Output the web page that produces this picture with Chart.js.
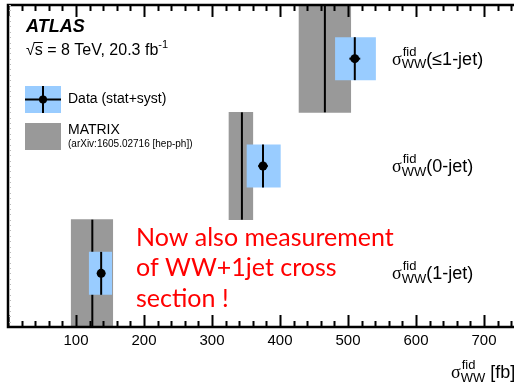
<!DOCTYPE html>
<html>
<head>
<meta charset="utf-8">
<script src="https://cdn.jsdelivr.net/npm/chart.js@4.4.0/dist/chart.umd.min.js"></script>
<style>
  html, body { margin: 0; padding: 0; background: #fff; overflow: hidden; }
  #wrap { width: 600px; height: 386px; }
</style>
</head>
<body>
<div id="wrap"><canvas id="wwChart" width="600" height="386"></canvas></div>
<script>
// Rows from top to bottom
const rowNames = ['≤1-jet', '0-jet', '1-jet'];
const rowPos = [2.5, 1.5, 0.5];

// MATRIX prediction band [fb]
const matrixLow = [428, 325, 93];
const matrixHigh = [504, 360, 154];
const matrixCentral = [466, 344, 124];

// Measured data [fb]
const dataValue = [510, 375, 137];
const dataLow = [481, 351, 119];
const dataHigh = [541, 401, 153];
const dataStat = [8, 7, 5];

// x axis
const xMin = 0;
const xMax = 800;
const majorStep = 100;
const minorStep = 20;

const grayColor = '#999999';
const blueColor = '#99ccff';

function makeLineDataset(points, order) {
  return {
    type: 'line',
    data: points,
    borderColor: '#000',
    borderWidth: 2,
    pointRadius: 0,
    fill: false,
    order: order
  };
}

const datasets = [
  {
    type: 'bar',
    indexAxis: 'y',
    label: 'MATRIX',
    data: rowPos.map((y, i) => ({ y: y, x: [matrixLow[i], matrixHigh[i]] })),
    backgroundColor: grayColor,
    barPercentage: 1,
    categoryPercentage: 1,
    grouped: false,
    order: 5
  },
  {
    type: 'bar',
    indexAxis: 'y',
    label: 'Data (stat+syst)',
    data: rowPos.map((y, i) => ({ y: y, x: [dataLow[i], dataHigh[i]] })),
    backgroundColor: blueColor,
    barPercentage: 0.4,
    categoryPercentage: 1,
    grouped: false,
    order: 3
  }
];

// central MATRIX lines (behind data boxes)
rowPos.forEach((y, i) => {
  datasets.push(makeLineDataset([
    { x: matrixCentral[i], y: y - 0.5 },
    { x: matrixCentral[i], y: y + 0.5 }
  ], 4));
});

// data error bars
rowPos.forEach((y, i) => {
  datasets.push(makeLineDataset([
    { x: dataValue[i], y: y - 0.2 },
    { x: dataValue[i], y: y + 0.2 }
  ], 2));
  datasets.push(makeLineDataset([
    { x: dataValue[i] - dataStat[i], y: y },
    { x: dataValue[i] + dataStat[i], y: y }
  ], 2));
});

// data markers
datasets.push({
  type: 'line',
  data: rowPos.map((y, i) => ({ x: dataValue[i], y: y })),
  showLine: false,
  pointRadius: 4.5,
  pointBackgroundColor: '#000',
  pointBorderWidth: 0,
  order: 1
});

function drawSigma(ctx, x0, base, size, tail) {
  ctx.font = size + 'px "Liberation Serif"';
  ctx.fillText('σ', x0, base);
  const w = ctx.measureText('σ').width;
  const sub = Math.round(size * 0.72);
  ctx.font = sub + 'px "Liberation Sans"';
  ctx.fillText('fid', x0 + w + 1, base - size * 0.5);
  ctx.fillText('WW', x0 + w, base + size * 0.2);
  const ww = Math.max(ctx.measureText('WW').width, ctx.measureText('fid').width);
  ctx.font = size + 'px "Liberation Sans"';
  ctx.fillText(tail, x0 + w + ww, base);
}

const atlasDecor = {
  id: 'atlasDecor',
  afterDatasetsDraw(chart) {
    const ctx = chart.ctx;
    const a = chart.chartArea;
    const xs = chart.scales.x;
    const ys = chart.scales.y;
    ctx.save();

    // frame
    ctx.strokeStyle = '#000';
    ctx.lineWidth = 2.5;
    ctx.beginPath();
    ctx.moveTo(a.right, a.top);
    ctx.lineTo(a.left, a.top);
    ctx.lineTo(a.left, a.bottom);
    ctx.lineTo(a.right, a.bottom);
    ctx.stroke();

    // inward ticks top and bottom
    ctx.lineWidth = 2;
    for (let v = xMin; v <= xMax; v += minorStep) {
      const px = Math.round(xs.getPixelForValue(v)) + 0.5;
      const len = v % majorStep === 0 ? 12 : 6;
      ctx.beginPath();
      ctx.moveTo(px, a.bottom);
      ctx.lineTo(px, a.bottom - len);
      ctx.moveTo(px, a.top);
      ctx.lineTo(px, a.top + len);
      ctx.stroke();
    }

    // faint ticks on the left
    ctx.strokeStyle = '#bbb';
    ctx.lineWidth = 1;
    for (let v = 0.05; v < 3; v += 0.05) {
      const py = Math.round(ys.getPixelForValue(v)) + 0.5;
      ctx.beginPath();
      ctx.moveTo(a.left + 1, py);
      ctx.lineTo(a.left + 3, py);
      ctx.stroke();
    }

    ctx.fillStyle = '#000';
    ctx.textBaseline = 'alphabetic';
    ctx.textAlign = 'left';

    // ATLAS label
    ctx.font = 'italic bold 18px "Liberation Sans"';
    ctx.fillText('ATLAS', 26, 32);

    // energy / lumi
    ctx.font = '16px "Liberation Sans"';
    const rootW = ctx.measureText('√').width;
    const sW = ctx.measureText('s').width;
    const line = '√s = 8 TeV, 20.3 fb';
    ctx.fillText(line, 26, 55);
    ctx.lineWidth = 1;
    ctx.strokeStyle = '#000';
    ctx.beginPath();
    ctx.moveTo(26 + rootW - 1, 42.5);
    ctx.lineTo(26 + rootW + sW, 42.5);
    ctx.stroke();
    const lw = ctx.measureText(line).width;
    ctx.font = '11px "Liberation Sans"';
    ctx.fillText('-1', 26 + lw, 48);

    // legend: data
    ctx.fillStyle = blueColor;
    ctx.fillRect(25, 86, 36, 27);
    ctx.strokeStyle = '#000';
    ctx.lineWidth = 2;
    ctx.beginPath();
    ctx.moveTo(25, 99.5);
    ctx.lineTo(61, 99.5);
    ctx.moveTo(43, 86);
    ctx.lineTo(43, 113);
    ctx.stroke();
    ctx.fillStyle = '#000';
    ctx.beginPath();
    ctx.arc(43, 99.5, 4, 0, Math.PI * 2);
    ctx.fill();
    ctx.font = '14px "Liberation Sans"';
    ctx.fillText('Data (stat+syst)', 68, 103);

    // legend: MATRIX
    ctx.fillStyle = grayColor;
    ctx.fillRect(25, 123, 36, 27);
    ctx.fillStyle = '#000';
    ctx.font = '14px "Liberation Sans"';
    ctx.fillText('MATRIX', 68, 134);
    ctx.font = '10px "Liberation Sans"';
    ctx.fillText('(arXiv:1605.02716 [hep-ph])', 68, 147);

    // row labels
    rowPos.forEach((y, i) => {
      const py = ys.getPixelForValue(y);
      drawSigma(ctx, 392, py + 6, 18, '(' + rowNames[i] + ')');
    });

    // axis title (cut by the window edge)
    drawSigma(ctx, 451, 378, 18, ' [fb]');

    // annotation
    ctx.fillStyle = '#ff0000';
    ctx.font = '25px Lato';
    ctx.fillText('Now also measurement', 136, 246);
    ctx.fillText('of WW+1jet cross', 136, 276);
    ctx.fillText('section !', 136, 307);

    ctx.restore();
  }
};

new Chart(document.getElementById('wwChart'), {
  type: 'bar',
  data: { datasets: datasets },
  options: {
    responsive: false,
    animation: false,
    devicePixelRatio: 1,
    layout: { padding: { left: 8, top: 5, right: 48, bottom: 0 } },
    plugins: {
      legend: { display: false },
      tooltip: { enabled: false }
    },
    scales: {
      x: {
        type: 'linear',
        offset: false,
        min: xMin,
        max: xMax,
        grid: { display: false, drawTicks: false, offset: false },
        border: { display: false },
        ticks: {
          stepSize: majorStep,
          color: '#000',
          padding: 5,
          font: { family: 'Liberation Sans', size: 15 },
          maxRotation: 0,
          callback: function(value) {
            return value === 0 || value === xMax ? '' : value;
          }
        },
        afterFit: function(scale) { scale.height = 59; }
      },
      y: {
        type: 'linear',
        offset: false,
        min: 0,
        max: 3,
        ticks: { stepSize: 1 },
        display: false
      }
    }
  },
  plugins: [atlasDecor]
});
</script>
</body>
</html>
